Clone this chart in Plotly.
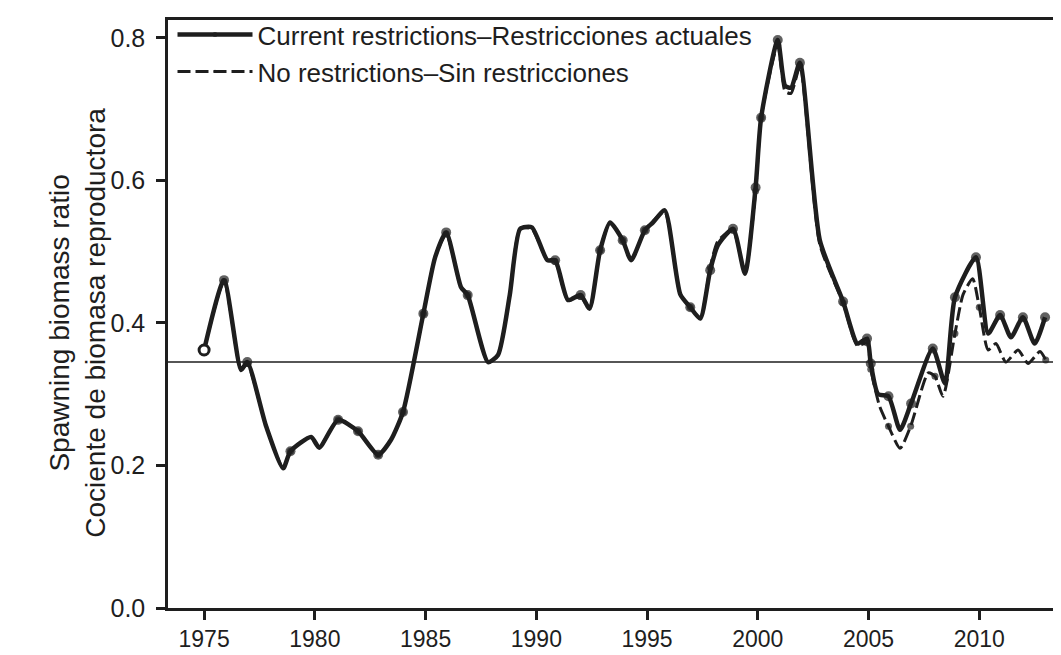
import plotly.graph_objects as go

# %% Data (decimal years, spawning biomass ratio)
years_current = [
    1975.0, 1975.9, 1976.67, 1976.95, 1977.8, 1978.57, 1978.9, 1979.83, 1980.2,
    1981.05, 1981.95, 1982.86, 1983.44, 1983.98, 1984.9, 1985.43, 1985.93,
    1986.6, 1986.9, 1987.82, 1988.27, 1988.8, 1989.27, 1989.8, 1990.5, 1990.85,
    1991.43, 1992.0, 1992.4, 1992.88, 1993.33, 1993.9, 1994.28, 1994.9, 1995.27,
    1995.8, 1996.5, 1996.95, 1997.4, 1997.85, 1998.2, 1998.88, 1999.42, 1999.9,
    2000.15, 2000.9, 2001.23, 2001.5, 2001.9, 2002.8, 2003.85, 2004.5, 2004.93,
    2005.1, 2005.43, 2005.9, 2006.42, 2006.92, 2007.9, 2008.45, 2008.9, 2009.85,
    2010.4, 2010.94, 2011.43, 2011.97, 2012.5, 2012.97,
]
sbr_current = [
    0.362, 0.460, 0.334, 0.345, 0.255, 0.196, 0.220, 0.240, 0.225,
    0.264, 0.248, 0.215, 0.236, 0.275, 0.413, 0.492, 0.527,
    0.450, 0.439, 0.345, 0.355, 0.439, 0.532, 0.534, 0.488, 0.488,
    0.432, 0.439, 0.420, 0.502, 0.541, 0.516, 0.488, 0.530, 0.541,
    0.558, 0.440, 0.422, 0.406, 0.474, 0.509, 0.532, 0.469, 0.590,
    0.688, 0.797, 0.733, 0.730, 0.765, 0.516, 0.430, 0.371, 0.378,
    0.343, 0.300, 0.297, 0.250, 0.287, 0.364, 0.315, 0.436, 0.492,
    0.385, 0.411, 0.380, 0.408, 0.371, 0.408,
]

years_none = [
    1975.0, 1975.9, 1976.67, 1976.95, 1977.8, 1978.57, 1978.9, 1979.83, 1980.2,
    1981.05, 1981.95, 1982.86, 1983.44, 1983.98, 1984.9, 1985.43, 1985.93,
    1986.6, 1986.9, 1987.82, 1988.27, 1988.8, 1989.27, 1989.8, 1990.5, 1990.85,
    1991.43, 1992.0, 1992.4, 1992.88, 1993.33, 1993.9, 1994.28, 1994.9, 1995.27,
    1995.8, 1996.5, 1996.95, 1997.4, 1997.85, 1998.2, 1998.88, 1999.42, 1999.9,
    2000.15, 2000.9, 2001.23, 2001.5, 2001.9, 2002.8, 2003.85, 2004.5, 2004.93,
    2005.1, 2005.5, 2005.9, 2006.42, 2006.9, 2007.7, 2008.0, 2008.36, 2008.9,
    2009.27, 2009.7, 2010.0, 2010.4, 2010.75, 2011.2, 2011.75, 2012.2, 2012.74,
    2013.0,
]
sbr_none = [
    0.362, 0.458, 0.334, 0.343, 0.255, 0.196, 0.220, 0.240, 0.225,
    0.264, 0.248, 0.215, 0.236, 0.275, 0.413, 0.492, 0.525,
    0.450, 0.439, 0.345, 0.355, 0.439, 0.532, 0.532, 0.488, 0.486,
    0.432, 0.437, 0.420, 0.502, 0.541, 0.516, 0.488, 0.530, 0.543,
    0.556, 0.440, 0.422, 0.406, 0.478, 0.515, 0.530, 0.469, 0.585,
    0.688, 0.790, 0.725, 0.722, 0.760, 0.510, 0.428, 0.368, 0.372,
    0.335, 0.283, 0.255, 0.224, 0.255, 0.330, 0.325, 0.297, 0.385,
    0.440, 0.462, 0.422, 0.362, 0.371, 0.345, 0.362, 0.343, 0.360,
    0.348,
]

reference_sbr = 0.345
x_ticks = [1975, 1980, 1985, 1990, 1995, 2000, 2005, 2010]
y_ticks = [0.0, 0.2, 0.4, 0.6, 0.8]

legend_current = "Current restrictions\u2013Restricciones actuales"
legend_none = "No restrictions\u2013Sin restricciones"
y_title = "Spawning biomass ratio<br>Cociente de biomasa reproductora"


def marker_sizes(years, size):
    # markers only at the points sitting close to a whole year
    return [size if abs(y - round(y)) < 0.16 else 0 for y in years]


ink = "#1e1e1e"

fig = go.Figure()

# reference line spanning the plot
fig.add_hline(y=reference_sbr, line=dict(color=ink, width=1.5))

fig.add_trace(go.Scatter(
    x=years_none, y=sbr_none,
    mode="lines+markers",
    line=dict(color=ink, width=3, dash="13px,5px", shape="spline", smoothing=0.6),
    marker=dict(color=ink, size=marker_sizes(years_none, 7),
                line=dict(width=0)),
    name=legend_none,
))

fig.add_trace(go.Scatter(
    x=years_current, y=sbr_current,
    mode="lines+markers",
    line=dict(color=ink, width=4.5, shape="spline", smoothing=0.6),
    marker=dict(color=ink, size=marker_sizes(years_current, 10),
                line=dict(width=0)),
    name=legend_current,
))

# open circle at the first point
fig.add_trace(go.Scatter(
    x=years_current[:1], y=sbr_current[:1],
    mode="markers",
    marker=dict(color="white", size=10, line=dict(color=ink, width=3)),
    showlegend=False,
))

# y-axis title as a rotated annotation so it can sit close to the tick labels
fig.add_annotation(
    text=y_title, textangle=-90,
    xref="paper", yref="paper", x=-0.1, y=0.485,
    xanchor="center", yanchor="middle", showarrow=False,
    font=dict(size=28, color=ink),
)

fig.update_layout(
    width=1061, height=655,
    paper_bgcolor="white", plot_bgcolor="white",
    margin=dict(l=160, r=0, t=12, b=55),
    font=dict(family="Liberation Sans, Arial, sans-serif", color=ink, size=24),
    showlegend=True,
    legend=dict(
        x=0.005, y=1.015, xanchor="left", yanchor="top",
        bgcolor="rgba(255,255,255,0)", font=dict(size=26),
        traceorder="reversed", itemwidth=75, tracegroupgap=0,
    ),
    xaxis=dict(
        range=[1973.37, 2014.05],
        tickvals=x_ticks,
        ticks="outside", ticklen=9, tickwidth=2.5, tickcolor=ink,
        showline=True, linecolor=ink, linewidth=2.5, mirror=True,
        showgrid=False, zeroline=False,
        tickfont=dict(size=23),
    ),
    yaxis=dict(
        range=[0, 0.825],
        tickvals=y_ticks, tickformat=".1f",
        ticks="outside", ticklen=9, tickwidth=2.5, tickcolor=ink,
        ticklabelstandoff=6,
        showline=True, linecolor=ink, linewidth=2.5,
        showgrid=False, zeroline=False,
        tickfont=dict(size=25),
    ),
)

fig.write_html("out.html")
